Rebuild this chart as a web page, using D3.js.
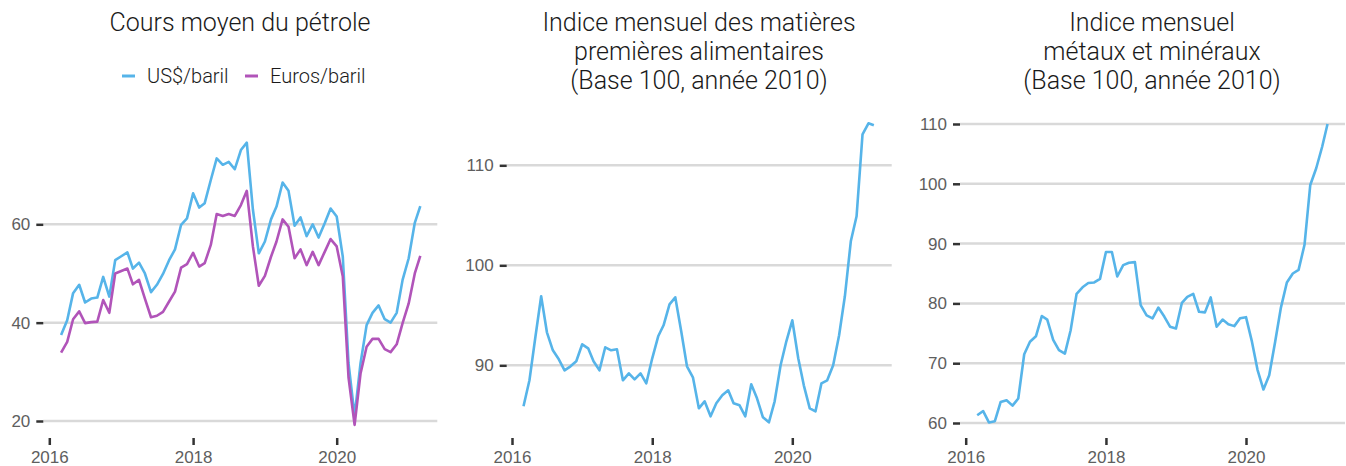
<!DOCTYPE html>
<html>
<head>
<meta charset="utf-8">
<script src="https://cdn.jsdelivr.net/npm/d3@7"></script>
<style>
  body { margin: 0; background: #fff; }
  svg { display: block; font-family: Roboto, "Noto Sans", sans-serif; font-weight: 300; }
</style>
</head>
<body>
<svg width="1346" height="466"></svg>
<script>
// monthly data, March 2016 -> March 2021
const firstMonth = new Date(2016, 2, 1);
const lastMonth = new Date(2021, 2, 1);
const yearTicks = [2016, 2018, 2020];

const oilUsd = [37.5, 40.5, 46.0, 47.7, 44.1, 44.9, 45.1, 49.3, 45.3, 52.7,
  53.5, 54.3, 51.0, 52.2, 50.0, 46.2, 47.7, 49.9, 52.7, 54.9,
  59.9, 61.2, 66.3, 63.4, 64.3, 69.0, 73.4, 72.1, 72.7, 71.2,
  75.1, 76.6, 63.0, 54.1, 56.5, 61.0, 63.6, 68.5, 66.8, 59.7,
  61.4, 57.6, 60.0, 57.3, 60.2, 63.2, 61.6, 53.4, 31.8, 21.0,
  31.7, 39.5, 42.0, 43.5, 40.7, 40.0, 42.0, 48.7, 53.1, 60.3, 63.7];

const oilEur = [33.9, 36.1, 40.7, 42.3, 39.9, 40.1, 40.2, 44.6, 42.0, 50.0,
  50.5, 51.0, 47.8, 48.7, 44.9, 41.1, 41.4, 42.2, 44.3, 46.3,
  51.2, 51.9, 54.2, 51.4, 52.1, 55.8, 62.1, 61.7, 62.1, 61.7,
  63.9, 66.8, 55.5, 47.5, 49.5, 53.4, 56.5, 61.0, 59.5, 53.1,
  54.9, 51.7, 54.4, 51.7, 54.4, 57.0, 55.5, 49.4, 28.9, 19.2,
  29.6, 35.1, 36.7, 36.7, 34.6, 34.0, 35.6, 39.9, 43.9, 50.0, 53.6];

const foodIndex = [85.9, 88.5, 92.7, 96.9, 93.3, 91.5, 90.6, 89.5, 89.9, 90.4,
  92.1, 91.7, 90.4, 89.5, 91.8, 91.5, 91.6, 88.5, 89.2, 88.6,
  89.2, 88.2, 90.7, 92.9, 94.0, 96.1, 96.8, 93.4, 89.9, 88.8,
  85.7, 86.4, 84.9, 86.2, 87.0, 87.5, 86.2, 86.0, 84.9, 88.1,
  86.7, 84.8, 84.3, 86.4, 90.0, 92.4, 94.5, 90.7, 88.0, 85.7,
  85.4, 88.2, 88.5, 90.0, 93.0, 96.9, 102.4, 104.9, 113.1, 114.2, 114.0];

const metalIndex = [61.3, 62.0, 60.1, 60.3, 63.5, 63.8, 62.9, 64.1, 71.5, 73.6,
  74.5, 77.9, 77.3, 73.9, 72.2, 71.6, 75.5, 81.6, 82.7, 83.4,
  83.5, 84.1, 88.6, 88.6, 84.5, 86.4, 86.8, 86.9, 79.7, 78.0,
  77.5, 79.3, 77.8, 76.1, 75.8, 80.1, 81.1, 81.6, 78.6, 78.5,
  81.0, 76.1, 77.3, 76.5, 76.2, 77.5, 77.7, 73.6, 68.9, 65.6,
  68.0, 73.6, 79.3, 83.5, 85.0, 85.6, 89.8, 99.8, 102.6, 106.2, 110.0];

const oilTicks = [20, 40, 60];
const foodTicks = [90, 100, 110];
const metalTicks = [60, 70, 80, 90, 100, 110];

const legendLabels = ['US$/baril', 'Euros/baril'];
const blue = '#56b4e9';
const purple = '#b154b9';

const months = d3.timeMonth.range(firstMonth, d3.timeMonth.offset(lastMonth, 1));

const svg = d3.select('svg');

const panels = [
  { title: ['Cours moyen du pétrole'], cx: 240,
    xr: [49.3, 336.7], ydom: [20, 60], yr: [421, 224.3], grid: [43.3, 437.3],
    ticks: oilTicks, series: [[oilUsd, blue], [oilEur, purple]] },
  { title: ['Indice mensuel des matières', 'premières alimentaires', '(Base 100, année 2010)'], cx: 699,
    xr: [512, 792.3], ydom: [90, 110], yr: [365.3, 165.3], grid: [506.7, 891.7],
    ticks: foodTicks, series: [[foodIndex, blue]] },
  { title: ['Indice mensuel', 'métaux et minéraux', '(Base 100, année 2010)'], cx: 1152,
    xr: [965.7, 1246], ydom: [60, 110], yr: [423, 124], grid: [960, 1345],
    ticks: metalTicks, series: [[metalIndex, blue]] }
];

panels.forEach(p => {
  const x = d3.scaleTime()
    .domain([new Date(2016, 0, 1), new Date(2020, 0, 1)])
    .range(p.xr);
  const y = d3.scaleLinear().domain(p.ydom).range(p.yr);
  const g = svg.append('g');

  // grid
  g.selectAll('.grid').data(p.ticks).enter()
    .append('line')
    .attr('x1', p.grid[0]).attr('x2', p.grid[1])
    .attr('y1', d => y(d)).attr('y2', d => y(d))
    .attr('stroke', '#d9d9d9').attr('stroke-width', 2.5);

  // y axis
  const ya = g.append('g')
    .attr('transform', `translate(${p.grid[0]},0)`)
    .call(d3.axisLeft(y).tickValues(p.ticks).tickSize(7).tickPadding(6));
  ya.select('.domain').remove();
  ya.selectAll('line').attr('stroke', '#333').attr('stroke-width', 2.5);
  ya.selectAll('text').attr('fill', '#5e5e5e').style('font-size', '17px').attr('font-family', null);

  // x axis
  const xa = g.append('g')
    .attr('transform', 'translate(0,438)')
    .call(d3.axisBottom(x)
      .tickValues(yearTicks.map(yr => new Date(yr, 0, 1)))
      .tickFormat(d3.timeFormat('%Y'))
      .tickSize(7).tickPadding(6));
  xa.select('.domain').remove();
  xa.selectAll('line').attr('stroke', '#333').attr('stroke-width', 2.5);
  xa.selectAll('text').attr('fill', '#5e5e5e').style('font-size', '17px').attr('font-family', null);

  const line = d3.line()
    .x((d, i) => x(months[i]))
    .y(d => y(d));

  p.series.forEach(([vals, col]) => {
    g.append('path')
      .datum(vals)
      .attr('d', line)
      .attr('fill', 'none')
      .attr('stroke', col)
      .attr('stroke-width', 2.6)
      .attr('stroke-linejoin', 'round');
  });

  // title
  g.append('text')
    .attr('text-anchor', 'middle')
    .style('font-size', '25px')
    .attr('fill', '#1a1a1a')
    .selectAll('tspan').data(p.title).enter()
    .append('tspan')
    .attr('x', p.cx)
    .attr('y', (d, i) => 31 + i * 29)
    .text(d => d);
});

// legend for the oil panel
const legend = svg.append('g');
const legendX = [122, 245];
[blue, purple].forEach((col, i) => {
  legend.append('line')
    .attr('x1', legendX[i]).attr('x2', legendX[i] + 13)
    .attr('y1', 76).attr('y2', 76)
    .attr('stroke', col).attr('stroke-width', 3);
  legend.append('text')
    .attr('x', legendX[i] + 25).attr('y', 83)
    .style('font-size', '20px')
    .attr('fill', '#1a1a1a')
    .text(legendLabels[i]);
});
</script>
</body>
</html>
